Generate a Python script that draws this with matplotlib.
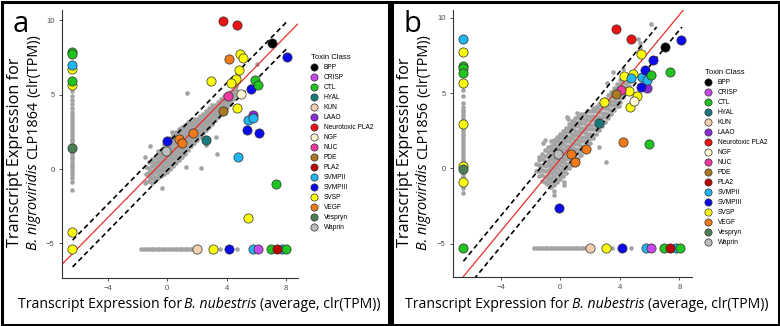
import numpy as np
import matplotlib.pyplot as plt
from matplotlib.lines import Line2D
from matplotlib.patches import Rectangle

plt.rcParams['font.family'] = ['Liberation Sans', 'DejaVu Sans']

W, H = 780, 326

toxin_classes = ['BPP', 'CRISP', 'CTL', 'HYAL', 'KUN', 'LAAO', 'Neurotoxic PLA2', 'NGF',
                 'NUC', 'PDE', 'PLA2', 'SVMPII', 'SVMPIII', 'SVSP', 'VEGF', 'Vespryn', 'Waprin']
toxin_colors = ['#000000', '#c648e8', '#1fc41f', '#17797a', '#f4cfae', '#8a2bd6', '#ee1111', '#fff6d2',
                '#ee3aa0', '#a8791f', '#bb0505', '#22b6f0', '#0a0aee', '#fdfd0a', '#f07a1a', '#4b7e50', '#bdbdbd']
draw_order = ['SVSP', 'Neurotoxic PLA2', 'BPP', 'LAAO', 'SVMPII', 'SVMPIII', 'VEGF', 'CTL', 'NGF',
              'NUC', 'PDE', 'HYAL', 'Waprin', 'Vespryn', 'KUN', 'CRISP', 'PLA2']

# ---------------- panel a : CLP1864 ----------------
a_class = ['SVSP'] * 13 + ['Neurotoxic PLA2'] * 2 + ['BPP', 'LAAO'] + ['SVMPII'] * 6 + ['SVMPIII'] * 6 \
    + ['VEGF'] * 4 + ['CTL'] * 8 + ['NGF', 'NUC', 'PDE', 'HYAL', 'Waprin', 'Vespryn', 'KUN', 'CRISP', 'PLA2']
a_x = [4.90, 5.12, 4.85, 4.63, 4.30, 2.95, 4.68, 5.41, -6.4, -6.4, -6.4, -6.4, 3.09,
       3.74, 4.72,
       7.02, 5.79,
       5.46, 5.75, 4.77, -6.4, 5.77, 7.70,
       8.08, 5.64, 5.39, 6.17, -0.02, 4.14,
       4.16, 1.77, 0.81, 1.00,
       5.90, 6.09, 7.32, -6.4, -6.4, -6.4, 6.98, 7.97,
       4.99, 4.09, 3.78, 2.62, -0.07, -6.4, 2.04, 6.09, 7.36]
a_y = [7.71, 7.48, 6.65, 6.07, 5.76, 5.94, 4.08, -3.28, 6.70, 5.63, -4.21, -5.39, -5.39,
       9.96, 9.72,
       8.49, 3.63,
       3.29, 3.41, 0.80, 6.97, -5.39, -5.39,
       7.51, 5.36, 2.62, 2.44, 1.91, -5.39,
       7.42, 2.40, 2.00, 1.73,
       5.98, 5.63, -0.99, 7.85, 7.71, 5.94, -5.39, -5.39,
       5.06, 4.95, 3.88, 1.95, 1.21, 1.43, -5.39, -5.39, -5.39]

a_cloud = [
    (-1.4, [-0.85, -0.35, 0.15]),
    (-1.2, [-0.8, -0.45, -0.2, 0.1, 0.45]),
    (-1.0, [-0.9, -0.6, -0.3, -0.1, 0.2, 0.45, 0.7]),
    (-0.8, [-0.75, -0.5, -0.2, 0.05, 0.3, 0.5, 0.8]),
    (-0.6, [-0.6, -0.3, -0.05, 0.2, 0.45, 0.7, 0.95, 1.2]),
    (-0.4, [-0.45, -0.2, 0.05, 0.3, 0.55, 0.8, 1.05, 1.3]),
    (-0.2, [-0.3, -0.05, 0.2, 0.45, 0.7, 0.95, 1.2, 1.45, 1.7]),
    (0.0, [-0.2, 0.1, 0.35, 0.6, 0.85, 1.1, 1.35, 1.6, 1.9]),
    (0.2, [0.0, 0.3, 0.55, 0.8, 1.05, 1.3, 1.55, 1.8, 2.1]),
    (0.4, [0.2, 0.5, 0.75, 1.0, 1.25, 1.5, 1.75, 2.0, 2.3]),
    (0.6, [0.4, 0.7, 0.95, 1.2, 1.45, 1.7, 1.95, 2.2, 2.5]),
    (0.8, [0.6, 0.9, 1.15, 1.4, 1.65, 1.9, 2.15, 2.4, 2.7]),
    (1.0, [0.8, 1.1, 1.35, 1.6, 1.85, 2.1, 2.35, 2.6, 2.85]),
    (1.2, [1.05, 1.3, 1.55, 1.8, 2.05, 2.3, 2.55, 2.8, 3.0]),
    (1.4, [1.3, 1.55, 1.8, 2.0, 2.25, 2.5, 2.75, 3.0, 3.2]),
    (1.6, [1.55, 1.8, 2.0, 2.25, 2.45, 2.7, 2.95, 3.2]),
    (1.8, [1.75, 2.0, 2.2, 2.45, 2.65, 2.9, 3.15, 3.4]),
    (2.0, [1.95, 2.2, 2.4, 2.65, 2.85, 3.1, 3.35]),
    (2.2, [2.2, 2.4, 2.6, 2.85, 3.05, 3.3, 3.55]),
    (2.4, [2.4, 2.6, 2.85, 3.05, 3.25, 3.5, 3.7]),
    (2.6, [2.6, 2.85, 3.05, 3.25, 3.45, 3.7, 3.9]),
    (2.8, [2.85, 3.05, 3.25, 3.45, 3.65, 3.9, 4.1]),
    (3.0, [3.05, 3.25, 3.45, 3.65, 3.85, 4.1, 4.3]),
    (3.2, [3.3, 3.5, 3.7, 3.9, 4.1, 4.3]),
    (3.4, [3.5, 3.7, 3.9, 4.1, 4.3, 4.5]),
    (3.6, [3.7, 3.9, 4.1, 4.3, 4.5, 4.7]),
    (3.8, [3.9, 4.1, 4.3, 4.5, 4.7, 4.95]),
    (4.0, [4.15, 4.35, 4.55, 4.75, 5.0]),
    (4.2, [4.4, 4.6, 4.8, 5.0, 5.2]),
    (4.4, [4.7, 4.9, 5.1, 5.35]),
    (4.6, [5.0, 5.3, 5.6]),
    (4.8, [5.9]),
]
a_stray_x = [1.32, 6.03, 2.28, 3.27, 2.26, 1.28, 3.38, -1.48, -1.14, -1.48, -0.81, -1.14, -0.32, 4.75, 2.6, 0.3]
a_stray_y = [5.15, 7.10, 2.17, 2.17, 0.09, 0.11, 0.99, 0.83, 1.57, -0.96, -0.74, -0.58, -1.30, 6.3, 1.6, 2.5]
a_zero_x = -6.4
a_zero_y = -5.39
a_vstrip_y = [5.27, 4.95, 4.62, 4.35, 4.1, 3.85, 3.62, 3.45, 3.28, 3.1, 2.92, 2.75, 2.57, 2.4, 2.22,
              2.05, 1.88, 1.7, 1.52, 1.35, 1.18, 1.0, 0.82, 0.65, 0.48, 0.3, 0.12, -0.05, -0.22,
              -0.4, -0.6, -0.87, -1.41]
a_hstrip_x = [-1.72, -1.55, -1.38, -1.2, -1.03, -0.86, -0.69, -0.52, -0.35, -0.18, 0.0, 0.17, 0.34,
              0.51, 0.68, 0.85, 1.02, 1.19, 1.36, 1.53, 1.7, 1.87, 3.56, 4.68]
a_fit = dict(slope=1.02, icpt=0.80, band=0.90, x0=-6.35, x1=8.08, ymax=9.96)

# ---------------- panel b : CLP1856 ----------------
b_class = ['SVSP'] * 13 + ['Neurotoxic PLA2'] * 2 + ['BPP', 'LAAO'] + ['SVMPII'] * 6 + ['SVMPIII'] * 6 \
    + ['VEGF'] * 4 + ['CTL'] * 9 + ['NGF', 'NUC', 'PDE', 'HYAL', 'Waprin', 'Vespryn', 'KUN', 'CRISP', 'PLA2']
b_x = [5.44, 4.30, 4.90, 4.63, 5.13, 4.68, 2.95, -6.5, -6.5, -6.5, -6.5, -6.5, 3.05,
       3.74, 4.72,
       7.06, 5.84,
       4.75, 5.48, 5.80, -6.5, 5.77, 7.74,
       8.10, 6.20, 5.66, 5.42, -0.11, 4.12,
       4.19, 1.70, 0.74, 0.96,
       7.36, 6.12, 5.93, -6.5, -6.5, -6.5, -6.5, 6.96, 8.03,
       4.97, 4.05, 3.74, 2.58, -0.13, -6.5, 1.99, 6.11, 7.38]
b_y = [7.58, 6.17, 6.30, 5.17, 4.82, 4.07, 4.42, 7.72, 5.70, 2.96, 0.19, -0.92, -5.30,
       9.27, 8.60,
       8.04, 5.37,
       6.03, 6.06, 5.88, 8.60, -5.30, -5.30,
       8.54, 7.21, 6.54, 5.44, -2.62, -5.30,
       1.78, 1.27, 0.96, 0.43,
       6.41, 6.20, 1.61, 6.83, 6.66, 6.37, -5.30, -5.30, -5.30,
       4.47, 5.20, 4.93, 3.04, 0.96, -0.05, -5.30, -5.30, -5.30]

b_cloud = [
    (-1.6, [-0.2, 0.3]),
    (-1.4, [-0.5, -0.15, 0.2, 0.55]),
    (-1.2, [-0.8, -0.45, -0.1, 0.25, 0.6, 0.95]),
    (-1.0, [-0.9, -0.55, -0.2, 0.15, 0.5, 0.85, 1.2]),
    (-0.8, [-1.0, -0.7, -0.4, -0.1, 0.2, 0.5, 0.8, 1.1, 1.4]),
    (-0.6, [-1.2, -0.9, -0.6, -0.3, 0.0, 0.3, 0.6, 0.9, 1.2, 1.5, 1.8]),
    (-0.4, [-1.1, -0.8, -0.5, -0.2, 0.1, 0.4, 0.7, 1.0, 1.3, 1.6, 1.9]),
    (-0.2, [-0.9, -0.6, -0.3, 0.0, 0.3, 0.6, 0.9, 1.2, 1.5, 1.8, 2.1]),
    (0.0, [-0.7, -0.4, -0.1, 0.2, 0.5, 0.8, 1.1, 1.4, 1.7, 2.0, 2.3]),
    (0.2, [-0.5, -0.2, 0.1, 0.4, 0.7, 1.0, 1.3, 1.6, 1.9, 2.2, 2.5]),
    (0.4, [-0.3, 0.0, 0.3, 0.6, 0.9, 1.2, 1.5, 1.8, 2.1, 2.4, 2.7]),
    (0.6, [0.0, 0.3, 0.6, 0.9, 1.2, 1.5, 1.8, 2.1, 2.4, 2.7, 2.95]),
    (0.8, [0.2, 0.5, 0.8, 1.1, 1.4, 1.7, 2.0, 2.3, 2.6, 2.9, 3.15]),
    (1.0, [0.4, 0.7, 1.0, 1.3, 1.6, 1.9, 2.2, 2.5, 2.8, 3.1, 3.35]),
    (1.2, [0.7, 1.0, 1.3, 1.6, 1.9, 2.2, 2.5, 2.8, 3.1, 3.4]),
    (1.4, [0.9, 1.2, 1.5, 1.8, 2.1, 2.4, 2.7, 3.0, 3.3, 3.6]),
    (1.6, [1.2, 1.5, 1.8, 2.1, 2.4, 2.7, 3.0, 3.3, 3.6]),
    (1.8, [1.4, 1.7, 2.0, 2.3, 2.6, 2.9, 3.2, 3.5, 3.8]),
    (2.0, [1.7, 2.0, 2.3, 2.6, 2.9, 3.2, 3.5, 3.8]),
    (2.2, [2.0, 2.3, 2.6, 2.9, 3.2, 3.5, 3.8, 4.05]),
    (2.4, [2.3, 2.6, 2.9, 3.2, 3.5, 3.8, 4.1]),
    (2.6, [2.55, 2.85, 3.15, 3.45, 3.75, 4.05, 4.3]),
    (2.8, [2.8, 3.1, 3.4, 3.7, 4.0, 4.3, 4.55]),
    (3.0, [3.1, 3.4, 3.7, 4.0, 4.3, 4.6]),
    (3.2, [3.35, 3.65, 3.95, 4.25, 4.55, 4.85]),
    (3.4, [3.6, 3.9, 4.2, 4.5, 4.8, 5.05]),
    (3.6, [3.9, 4.2, 4.5, 4.8, 5.1, 5.35]),
    (3.8, [4.15, 4.45, 4.75, 5.05, 5.35, 5.6]),
    (4.0, [4.4, 4.7, 5.0, 5.3, 5.6, 5.85]),
    (4.2, [4.75, 5.05, 5.35, 5.65, 5.95]),
    (4.4, [5.1, 5.4, 5.7, 6.0]),
    (4.6, [5.5, 5.8]),
]
b_stray_x = [-1.41, -1.03, -1.14, 0.43, 0.5, 1.1, 3.56, 4.19, 4.79, 5.35, 5.33, 5.3, 6.09, 3.11, 3.96,
             3.05, -0.45, -0.45, 0.27, 0.27, -0.9, 5.2, 2.6]
b_stray_y = [0.78, 1.89, 1.67, 3.4, 3.3, 3.7, 6.43, 6.59, 5.88, 8.32, 8.1, 7.9, 9.58, 5.66, 4.15,
             0.45, -1.5, -1.75, -0.9, -1.1, -1.0, 8.6, 1.4]
b_zero_x = -6.5
b_zero_y = -5.30
b_vstrip_y = [5.2, 4.8, 4.37, 4.1, 3.9, 3.72, 3.55, 3.38, 3.2, 3.02, 2.85, 2.68, 2.5, 2.32, 2.15, 1.98,
              1.8, 1.62, 1.45, 1.28, 1.1, 0.92, 0.75, 0.58, 0.4, 0.22, 0.05, -0.12, -0.3, -0.48,
              -0.65, -0.82, -1.0, -1.18, -1.32, -1.6]
b_hstrip_x = [-1.74, -1.57, -1.4, -1.22, -1.05, -0.88, -0.7, -0.53, -0.36, -0.18, 0.0, 0.17, 0.34,
              0.52, 0.69, 0.86, 1.03, 1.21, 1.38, 1.55, 1.72, 1.89, 3.45, 4.72]
b_fit = dict(slope=1.20, icpt=0.62, band=1.02, x0=-6.5, x1=8.17, ymax=9.40)

color_of = dict(zip(toxin_classes, toxin_colors))
GREY = '#a3a3a3'
label_font = 'Open Sans'


def draw_panel(ax, cls, xs, ys, cloud, sx, sy, zx, zy, vstrip, hstrip, fit, xlim, ylim):
    gx = [c[0] for c in cloud for _ in c[1]] + list(sx) + [zx] * len(vstrip) + list(hstrip)
    gy = [v for c in cloud for v in c[1]] + list(sy) + list(vstrip) + [zy] * len(hstrip)
    ax.scatter(gx, gy, s=11, c=GREY, lw=0, zorder=1)

    ax.axline((0, fit['icpt']), slope=fit['slope'], color='#e8302a', lw=0.9, zorder=2)
    for off in (fit['band'], -fit['band']):
        b0 = fit['icpt'] + off
        x_end = min(fit['x1'], (fit['ymax'] - b0) / fit['slope'])
        xx = np.array([fit['x0'], x_end])
        ax.plot(xx, fit['slope'] * xx + b0, color='black', lw=1.2, ls=(0, (3, 2)), zorder=2)

    cls = np.array(cls)
    xs = np.array(xs)
    ys = np.array(ys)
    for name in draw_order:
        m = cls == name
        if m.any():
            ax.scatter(xs[m], ys[m], s=44, c=color_of[name], edgecolors='#303030', linewidths=0.5, zorder=3)

    ax.set_xlim(*xlim)
    ax.set_ylim(*ylim)
    ax.set_xticks([-4, 0, 4, 8])
    ax.set_yticks([-5, 0, 5, 10])
    for s in ('top', 'right'):
        ax.spines[s].set_visible(False)
    for s in ('left', 'bottom'):
        ax.spines[s].set_linewidth(0.8)
        ax.spines[s].set_color('#333333')
    ax.tick_params(length=2, width=0.6, color='#333333', labelsize=5.5, labelcolor='#4d4d4d', pad=3)


fig = plt.figure(figsize=(W / 100, H / 100), dpi=100)
renderer = fig.canvas.get_renderer()


def rich_line(pieces, cx, cy, target, vertical=False):
    """Place normal/italic pieces side by side, sized so the whole line is `target` px long,
    centred on (cx, cy) given in pixels from the top-left corner."""
    size0 = 10.0
    texts = [fig.text(0, 0, s, fontsize=size0, style=st, family=label_font) for s, st in pieces]
    widths = [t.get_window_extent(renderer).width for t in texts]
    probe1 = fig.text(0, 0, 'a a', fontsize=size0, family=label_font)
    probe2 = fig.text(0, 0, 'aa', fontsize=size0, family=label_font)
    space = probe1.get_window_extent(renderer).width - probe2.get_window_extent(renderer).width
    probe1.remove()
    probe2.remove()
    total = sum(widths) + space * (len(pieces) - 1)
    k = target / total
    size = size0 * k
    pos = -target / 2
    base = 0.36 * size * 100 / 72   # half cap height in px
    for t, w in zip(texts, widths):
        t.set_fontsize(size)
        if vertical:
            t.set_rotation(90)
            t.set_rotation_mode('anchor')
            t.set_position(((cx + base) / W, 1 - (cy - pos) / H))
        else:
            t.set_position(((cx + pos) / W, 1 - (cy + base) / H))
        t.set_ha('left')
        t.set_va('baseline')
        pos += (w + space) * k
    return size


ax_a = fig.add_axes([61.7 / W, 1 - 277.7 / H, 236 / W, 267.7 / H])
draw_panel(ax_a, a_class, a_x, a_y, a_cloud, a_stray_x, a_stray_y, a_zero_x, a_zero_y,
           a_vstrip_y, a_hstrip_x, a_fit, (-7.08, 8.78), (-7.3, 10.7))
ax_b = fig.add_axes([452.7 / W, 1 - 276.7 / H, 239 / W, 266.7 / H])
draw_panel(ax_b, b_class, b_x, b_y, b_cloud, b_stray_x, b_stray_y, b_zero_x, b_zero_y,
           b_vstrip_y, b_hstrip_x, b_fit, (-7.22, 8.82), (-7.19, 10.53))

handles = [Line2D([], [], ls='', marker='o', markersize=5.2, markerfacecolor=c,
                  markeredgecolor='#303030', markeredgewidth=0.5) for c in toxin_colors]
for ax, lx, ly in ((ax_a, 311, 54), (ax_b, 705, 69)):
    ax.legend(handles, toxin_classes, title='Toxin Class', loc='upper left',
              bbox_to_anchor=(lx / W, 1 - ly / H), bbox_transform=fig.transFigure,
              frameon=False, fontsize=4.8, title_fontsize=5.6, labelspacing=0.45,
              handlelength=1.0, handletextpad=0.9, borderpad=0, borderaxespad=0,
              alignment='left')

# axis titles
xlab = [('Transcript Expression for', 'normal'), ('B. nubestris', 'italic'), ('(average, clr(TPM))', 'normal')]
rich_line(xlab, 199, 303, 362)
rich_line(xlab, 586.5, 303, 363)
for cx, clp in ((0, 'CLP1864'), (390, 'CLP1856')):
    rich_line([('Transcript Expression for', 'normal')], cx + 13.5, 152, 190, vertical=True)
    rich_line([('B. nigroviridis', 'italic'), (clp, 'normal'), ('(clr(TPM))', 'normal')],
              cx + 32, 142, 216, vertical=True)

# panel letters
fig.text(20.5 / W, 1 - 32 / H, 'a', ha='center', va='baseline', fontsize=21, family=label_font)
fig.text(412.5 / W, 1 - 32 / H, 'b', ha='center', va='baseline', fontsize=21, family=label_font)

# panel frames
for x0 in (1.5, 391.5):
    fig.add_artist(Rectangle((x0 / W, 1.5 / H), 387 / W, 323 / H, transform=fig.transFigure,
                             fill=False, lw=2.2, ec='black'))

fig.savefig('out.png', dpi=100)
